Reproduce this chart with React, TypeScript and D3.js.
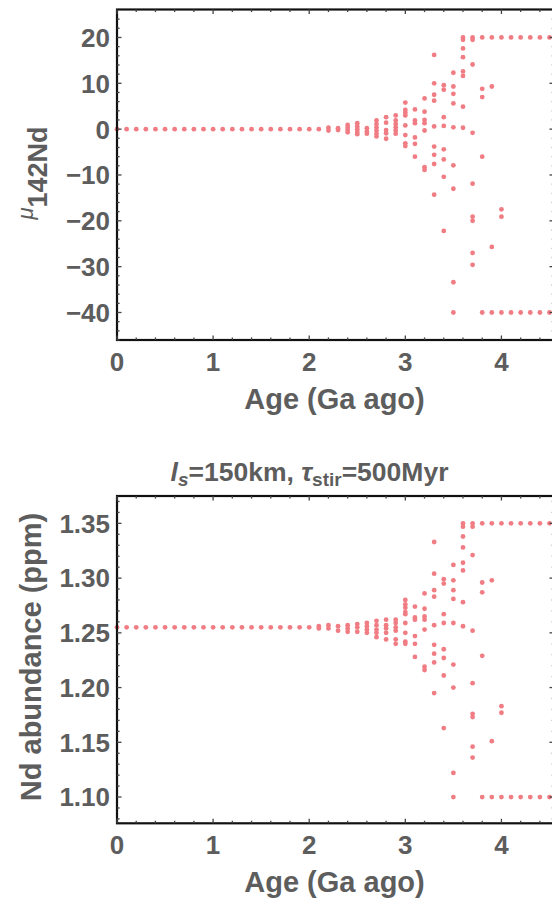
import React from "react";
import * as d3 from "d3";

// Age of each sample column (Ga ago)
const ages = [
  0, 0.1, 0.2, 0.3, 0.4, 0.5, 0.6, 0.7, 0.8, 0.9, 1.0, 1.1, 1.2, 1.3, 1.4, 1.5,
  1.6, 1.7, 1.8, 1.9, 2.0, 2.1, 2.2, 2.3, 2.4, 2.5, 2.6, 2.7, 2.8, 2.9, 3.0,
  3.1, 3.2, 3.3, 3.4, 3.5, 3.6, 3.7, 3.8, 3.9, 4.0, 4.1, 4.2, 4.3, 4.4, 4.5,
];

// mu142Nd values at each age
const mu142Nd: number[][] = [
  [0], [0], [0], [0], [0], [0], [0], [0], [0], [0], [0],
  [0], [0], [0], [0], [0], [0], [0], [0], [0], [0],
  [0],
  [0.3, -0.3],
  [0.2, -0.2],
  [0.9, 0.3, -0.2, -0.7],
  [1.3, 0.6, 0, -0.6, -1.1],
  [0.2, -0.5, -1.0],
  [1.9, 1.1, 0.4, -0.3, -1.0, -1.6],
  [2.6, 1.4, -0.2, -0.9, -2.1],
  [3.0, 1.9, 1.1, 0.4, -0.3, -1.0],
  [5.8, 4.2, 3.6, 3.0, 0.8, -1.3, -3.1, -3.7],
  [4.3, 1.9, 1.3, -1.8, -3.2, -6.0],
  [6.7, 3.8, 2.0, 1.3, -0.3, -8.3, -8.9],
  [16.2, 10.0, 7.5, 6.2, 0.6, -3.8, -5.6, -7.6, -14.3],
  [9.6, 8.6, 2.6, 0.7, -4.4, -6.6, -10.4, -22.2],
  [12.3, 9.3, 7.7, 5.6, 0.4, -7.9, -13.0, -33.4, -40],
  [20, 19.5, 17.6, 15.7, 12.6, 11.6, 4.9, 0.3],
  [20, 19.5, 14.1, -0.8, -11.9, -19.1, -20.0, -27.0, -29.6],
  [20, 8.8, 7.0, -6.0, -40],
  [20, 9.3, -25.7, -40],
  [20, -17.5, -19.1, -40],
  [20, -40],
  [20, -40],
  [20, -40],
  [20, -40],
  [20, -40],
];

// Nd abundance (ppm) at each age
const ndAbundance: number[][] = [
  [1.255], [1.255], [1.255], [1.255], [1.255], [1.255], [1.255], [1.255],
  [1.255], [1.255], [1.255], [1.255], [1.255], [1.255], [1.255], [1.255],
  [1.255], [1.255], [1.255], [1.255], [1.255],
  [1.256, 1.254],
  [1.257, 1.254],
  [1.256, 1.252],
  [1.257, 1.254, 1.251],
  [1.258, 1.255, 1.251],
  [1.259, 1.256, 1.253, 1.25],
  [1.261, 1.257, 1.253, 1.25, 1.246],
  [1.262, 1.257, 1.254, 1.25, 1.244],
  [1.262, 1.259, 1.255, 1.252, 1.244, 1.24],
  [1.28, 1.276, 1.273, 1.269, 1.267, 1.259, 1.25, 1.242, 1.24],
  [1.274, 1.264, 1.262, 1.247, 1.24, 1.228],
  [1.286, 1.272, 1.265, 1.262, 1.253, 1.219, 1.216],
  [1.333, 1.304, 1.289, 1.283, 1.257, 1.239, 1.231, 1.223, 1.195],
  [1.299, 1.295, 1.267, 1.259, 1.235, 1.227, 1.211, 1.163],
  [1.312, 1.298, 1.289, 1.281, 1.259, 1.221, 1.2, 1.122, 1.1],
  [1.35, 1.347, 1.338, 1.328, 1.314, 1.307, 1.278, 1.256],
  [1.35, 1.347, 1.321, 1.252, 1.204, 1.176, 1.173, 1.146, 1.136],
  [1.35, 1.296, 1.287, 1.229, 1.1],
  [1.35, 1.298, 1.151, 1.1],
  [1.35, 1.183, 1.177, 1.1],
  [1.35, 1.1],
  [1.35, 1.1],
  [1.35, 1.1],
  [1.35, 1.1],
  [1.35, 1.1],
];

const xTicks = [0, 1, 2, 3, 4];
const muTicks = [20, 10, 0, -10, -20, -30, -40];
const ndTicks = [1.35, 1.3, 1.25, 1.2, 1.15, 1.1];

const FONT = "'Liberation Sans', Arial, sans-serif";
const GREY = "#5d5d5d";
const DOT = "#f07c84";

const x = d3.scaleLinear().domain([0, 4.547]).range([117, 554]);
const xMinor = d3.range(0, 4.55, 0.2).map((d) => +d.toFixed(2));

type PanelProps = {
  y: d3.ScaleLinear<number, number>;
  ticks: number[];
  minor: number[];
  fmt: (d: number) => string;
  values: number[][];
};

const Panel = ({ y, ticks, minor, fmt, values }: PanelProps) => {
  const [x0, x1] = x.range();
  const [yb, yt] = y.range();
  const major = 4.5;
  const small = 2.6;
  return (
    <g>
      {/* points */}
      {ages.map((a, i) =>
        values[i].map((v, j) => (
          <circle key={`${i}-${j}`} cx={x(a)} cy={y(v)} r={2.4} fill={DOT} />
        ))
      )}
      {/* frame */}
      <rect x={x0} y={yt} width={x1 - x0} height={yb - yt} fill="none" stroke="#111" strokeWidth={2.2} />
      {/* x ticks top & bottom */}
      {xMinor.map((t) => {
        const len = xTicks.includes(t) ? major : small;
        return (
          <g key={`xt${t}`} stroke="#444" strokeWidth={1.3}>
            <line x1={x(t)} x2={x(t)} y1={yb} y2={yb - len} />
            <line x1={x(t)} x2={x(t)} y1={yt} y2={yt + len} />
          </g>
        );
      })}
      {/* y ticks left & right */}
      {minor.map((t) => {
        const isMajor = ticks.some((m) => Math.abs(m - t) < 1e-6);
        const len = isMajor ? major : small;
        return (
          <g key={`yt${t}`} stroke="#444" strokeWidth={1.3}>
            <line x1={x0} x2={x0 + len} y1={y(t)} y2={y(t)} />
            <line x1={x1} x2={x1 - len} y1={y(t)} y2={y(t)} strokeOpacity={isMajor ? 1 : 0.4} />
          </g>
        );
      })}
      {/* tick labels */}
      {ticks.map((t) => (
        <text key={`yl${t}`} x={110} y={y(t)} dy="0.36em" textAnchor="end" fontSize={26} fontWeight="bold" fill={GREY} fontFamily={FONT}>
          {fmt(t)}
        </text>
      ))}
      {xTicks.map((t) => (
        <text key={`xl${t}`} x={x(t)} y={yb + 31} textAnchor="middle" fontSize={26} fontWeight="bold" fill={GREY} fontFamily={FONT}>
          {t}
        </text>
      ))}
      <text x={334.5} y={yb + 69} textAnchor="middle" fontSize={29} fontWeight="bold" fill={GREY} fontFamily={FONT}>
        Age (Ga ago)
      </text>
    </g>
  );
};

const minus = (s: string) => s.replace("-", "\u2212");

const App = () => {
  const yMu = d3.scaleLinear().domain([-46, 26.1]).range([340, 9.5]);
  const yNd = d3.scaleLinear().domain([1.076, 1.375]).range([823.3, 496]);
  const muMinor = d3.range(-46, 26, 2);
  const ndMinor = d3.range(108, 138, 1).map((d) => d / 100);

  return (
    <svg width={552} height={905} style={{ position: "absolute", left: 0, top: 0, background: "#fff" }}>
      <rect width={552} height={905} fill="#fff" />
      <Panel y={yMu} ticks={muTicks} minor={muMinor} fmt={(d) => minus(String(d))} values={mu142Nd} />
      <Panel y={yNd} ticks={ndTicks} minor={ndMinor} fmt={(d) => d.toFixed(2)} values={ndAbundance} />

      {/* y label, top */}
      <text transform="translate(33,173) rotate(-90)" textAnchor="middle" fill={GREY} fontFamily={FONT}>
        <tspan fontSize={22} fontStyle="italic">μ</tspan>
        <tspan fontSize={27} fontWeight="bold" dy={14}>142Nd</tspan>
      </text>
      {/* y label, bottom */}
      <text transform="translate(41,657) rotate(-90)" textAnchor="middle" fontSize={29} fontWeight="bold" fill={GREY} fontFamily={FONT}>
        Nd abundance (ppm)
      </text>

      {/* title */}
      <text x={309.5} y={481} textAnchor="middle" fontSize={26.5} fontWeight="bold" fill={GREY} fontFamily={FONT}>
        <tspan fontStyle="italic">l</tspan>
        <tspan fontSize={19} fontStyle="italic" dy={5}>s</tspan>
        <tspan dy={-5}>=150km,{"\u00a0"}</tspan>
        <tspan fontStyle="italic">τ</tspan>
        <tspan fontSize={19} dy={5}>stir</tspan>
        <tspan dy={-5}>=500Myr</tspan>
      </text>
    </svg>
  );
};

export default App;
